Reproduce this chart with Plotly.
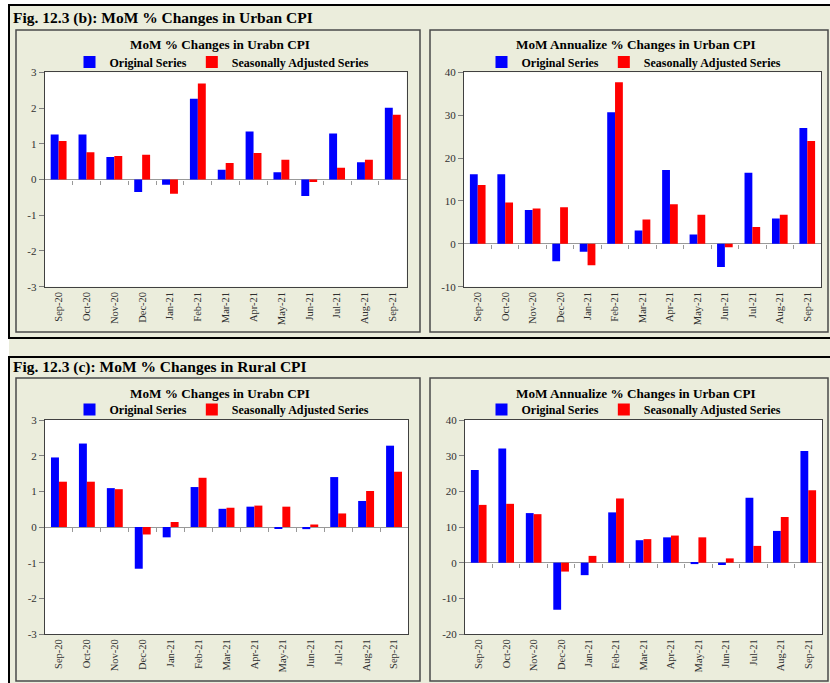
import plotly.graph_objects as go

W, H = 830, 683

months = ['Sep-20', 'Oct-20', 'Nov-20', 'Dec-20', 'Jan-21', 'Feb-21', 'Mar-21',
          'Apr-21', 'May-21', 'Jun-21', 'Jul-21', 'Aug-21', 'Sep-21']

urban_orig = [1.26, 1.26, 0.63, -0.35, -0.15, 2.26, 0.27, 1.34, 0.20, -0.46, 1.29, 0.48, 2.01]
urban_sa = [1.08, 0.76, 0.66, 0.69, -0.40, 2.69, 0.46, 0.74, 0.55, -0.07, 0.33, 0.55, 1.81]
urban_ann_orig = [16.2, 16.2, 7.9, -4.05, -1.87, 30.7, 3.1, 17.2, 2.2, -5.4, 16.6, 5.9, 27.0]
urban_ann_sa = [13.7, 9.65, 8.25, 8.5, -4.98, 37.7, 5.7, 9.2, 6.8, -0.8, 3.9, 6.8, 24.0]
rural_orig = [1.95, 2.34, 1.09, -1.17, -0.29, 1.12, 0.51, 0.57, -0.03, -0.06, 1.40, 0.73, 2.28]
rural_sa = [1.27, 1.27, 1.06, -0.21, 0.14, 1.38, 0.54, 0.60, 0.57, 0.07, 0.38, 1.01, 1.55]
rural_ann_orig = [26.0, 32.0, 13.9, -13.2, -3.5, 14.1, 6.3, 7.1, -0.4, -0.65, 18.2, 8.9, 31.3]
rural_ann_sa = [16.2, 16.5, 13.6, -2.5, 1.9, 18.0, 6.6, 7.6, 7.1, 1.2, 4.7, 12.8, 20.3]

pct_ticks = [-3, -2, -1, 0, 1, 2, 3]
urban_ann_ticks = [-10, 0, 10, 20, 30, 40]
rural_ann_ticks = [-20, -10, 0, 10, 20, 30, 40]

BLUE, RED = '#0000FF', '#FF0000'
BEIGE = '#EBEDDC'
FONT = 'Liberation Serif'


def px_x(v):
    return v / W


def px_y(v):
    return 1 - v / H


# (orig, sa, y ticks, plot x px, plot y px, title, title y px, legend y px)
panels = [
    (urban_orig, urban_sa, pct_ticks, (44.7, 406.7), (72.3, 286.7),
     'MoM % Changes in Urabn CPI', 44, 62),
    (urban_ann_orig, urban_ann_sa, urban_ann_ticks, (464, 821), (72.3, 286.7),
     'MoM Annualize % Changes in Urban CPI', 44, 62),
    (rural_orig, rural_sa, pct_ticks, (45, 408), (420, 634),
     'MoM % Changes in Urabn CPI', 393, 409.5),
    (rural_ann_orig, rural_ann_sa, rural_ann_ticks, (465, 822), (420, 634),
     'MoM Annualize % Changes in Urban CPI', 393, 409.5),
]

fig = go.Figure()
layout = {}
annotations = []
shapes = []

# background frames
shapes.append(dict(type='rect', xref='paper', yref='paper', x0=px_x(9), x1=1.02,
                   y0=-0.02, y1=px_y(5), fillcolor=BEIGE, line_width=0, layer='below'))
for top, bot in [(5, 338), (357, 700)]:
    shapes.append(dict(type='rect', xref='paper', yref='paper', x0=px_x(9), x1=1.02,
                       y0=px_y(bot), y1=px_y(top), fillcolor=BEIGE,
                       line=dict(color='#000000', width=2), layer='below'))
for top, bot in [(30, 332), (378, 681)]:
    for left, right in [(16, 420), (430, 828)]:
        shapes.append(dict(type='rect', xref='paper', yref='paper', x0=px_x(left), x1=px_x(right),
                           y0=px_y(bot), y1=px_y(top), fillcolor=BEIGE,
                           line=dict(color='#4a4a4a', width=1.5), layer='below'))

annotations.append(dict(text='<b>Fig. 12.3 (b): MoM % Changes in Urban CPI</b>', xref='paper', yref='paper',
                        x=px_x(11), y=px_y(18), xanchor='left', yanchor='middle', showarrow=False,
                        font=dict(family=FONT, size=15.5, color='#000000')))
annotations.append(dict(text='<b>Fig. 12.3 (c): MoM % Changes in Rural CPI</b>', xref='paper', yref='paper',
                        x=px_x(11), y=px_y(367), xanchor='left', yanchor='middle', showarrow=False,
                        font=dict(family=FONT, size=15.5, color='#000000')))

for i, (orig, sa, yt, xd, yd, title, ty, ly) in enumerate(panels):
    n = i + 1
    xa = 'x' if n == 1 else f'x{n}'
    ya = 'y' if n == 1 else f'y{n}'
    leg = 'legend' if n == 1 else f'legend{n}'
    yr = [yt[0], yt[-1]]
    fig.add_trace(go.Bar(x=months, y=orig, name='Original Series', marker_color=BLUE,
                         marker_line_width=0, xaxis=xa, yaxis=ya, legend=leg))
    fig.add_trace(go.Bar(x=months, y=sa, name='Seasonally Adjusted Series', marker_color=RED,
                         marker_line_width=0, xaxis=xa, yaxis=ya, legend=leg))
    xdom = [px_x(xd[0]), px_x(xd[1])]
    ydom = [px_y(yd[1]), px_y(yd[0])]
    layout['xaxis' if n == 1 else f'xaxis{n}'] = dict(
        domain=xdom, anchor=ya, type='category', tickangle=-90, ticks='', automargin=False,
        showline=True, linecolor='#404040', linewidth=1, mirror=True, showgrid=False,
        tickfont=dict(family=FONT, size=10.5, color='#303030'), range=[-0.5, 12.5])
    layout['yaxis' if n == 1 else f'yaxis{n}'] = dict(
        domain=ydom, anchor=xa, range=yr, tickvals=yt, ticktext=[str(v) for v in yt],
        showline=True, linecolor='#404040', automargin=False,
        linewidth=1, mirror=True, showgrid=False, zeroline=True, zerolinecolor='#999999',
        zerolinewidth=1, ticks='outside', ticklen=5, tickcolor='#808080',
        tickfont=dict(family=FONT, size=11, color='#303030'))
    # tick marks along the zero line at category boundaries
    zpos = ydom[0] + (ydom[1] - ydom[0]) * (0 - yr[0]) / (yr[1] - yr[0])
    ov = 4 + n
    layout[f'xaxis{ov}'] = dict(
        overlaying=xa, anchor='free', position=zpos, side='bottom', range=[-0.5, 12.5],
        tickvals=[k + 0.5 for k in range(12)], ticks='outside', ticklen=4, tickcolor='#999999',
        showticklabels=False, showgrid=False, zeroline=False, showline=False, automargin=False)
    fig.add_trace(go.Scatter(x=[], y=[], xaxis=f'x{ov}', yaxis=ya, showlegend=False, hoverinfo='skip'))
    shapes.append(dict(type='rect', xref=f'{xa} domain', yref=f'{ya} domain', x0=0, x1=1, y0=0, y1=1,
                       fillcolor='#FFFFFF', line_width=0, layer='below'))
    annotations.append(dict(text=f'<b>{title}</b>', xref='paper', yref='paper',
                            x=px_x(220 if n % 2 else 636), y=px_y(ty), xanchor='center', yanchor='middle',
                            showarrow=False, font=dict(family=FONT, size=13.2, color='#000000')))
    layout[leg] = dict(orientation='h', x=px_x(222 if n % 2 else 634), xanchor='center',
                       y=px_y(ly), yanchor='middle', bgcolor='rgba(0,0,0,0)', itemwidth=30,
                       font=dict(family=FONT, size=12, color='#000000', weight='bold'),
                       traceorder='normal')

fig.update_layout(**layout)
fig.update_layout(template='none', width=W, height=H, margin=dict(l=0, r=0, t=0, b=0, pad=0),
                  autosize=False, paper_bgcolor='#FFFFFF', plot_bgcolor='#FFFFFF',
                  barmode='group', bargap=0.43, bargroupgap=0,
                  shapes=shapes, annotations=annotations, showlegend=True)

fig.write_html('out.html', config={'displayModeBar': False},
               post_script="document.body.style.margin='0';document.body.style.overflow='hidden';")
